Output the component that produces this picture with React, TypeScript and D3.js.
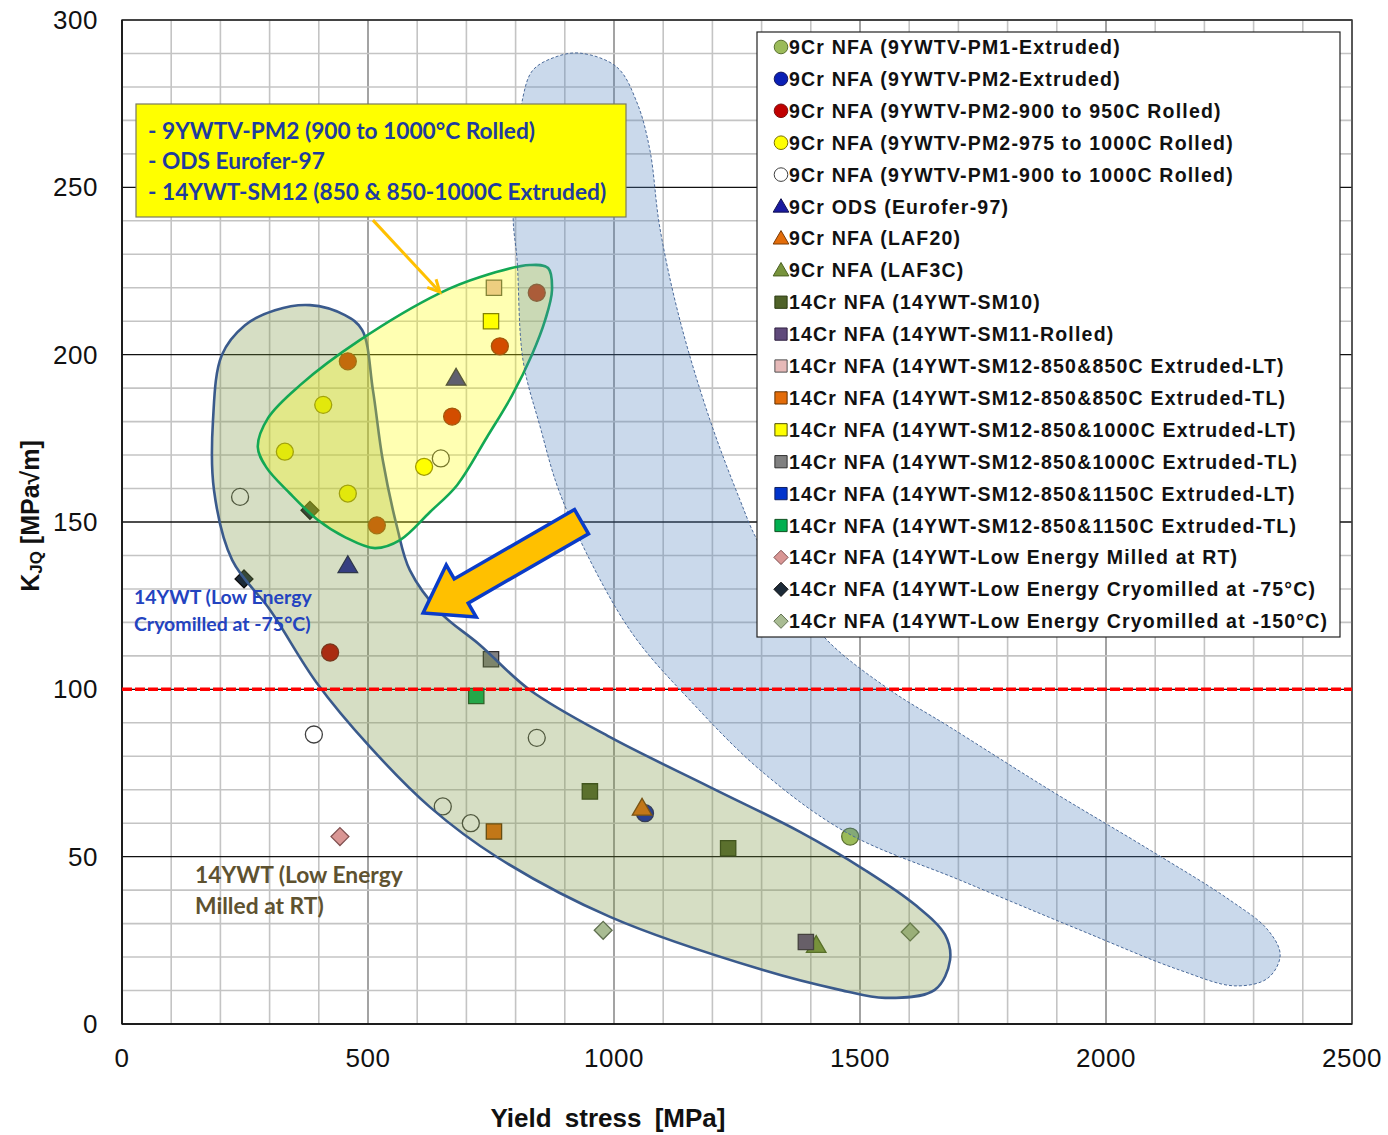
import React from "react";
import * as d3 from "d3";

// ---- axes ----
const xTicks = [0, 500, 1000, 1500, 2000, 2500];
const yTicks = [0, 50, 100, 150, 200, 250, 300];
const xMinorStep = 100;
const yMinorStep = 10;
const referenceLevel = 100;

// ---- series values: [yield stress MPa, K_JQ MPa√m] ----
const pm1Extruded = [[1480, 56]];
const pm2Extruded = [[1063, 63]];
const pm2Rolled900to950 = [[459, 198], [518, 149], [843, 218.5], [423, 111], [671, 181.5], [768, 202.5]];
const pm2Rolled975to1000 = [[331, 171], [409, 185], [459, 158.5], [614, 166.5]];
const pm1Rolled900to1000 = [[240, 157.5], [648, 169], [390, 86.5], [843, 85.5], [652, 65], [709, 60]];
const eurofer97 = [[459, 137], [679, 193]];
const laf20 = [[1057, 64.5]];
const laf3c = [[1411, 23.5]];
const sm10 = [[951, 69.5], [1232, 52.5]];
const sm11Rolled = [[1390, 24.5]];
const sm12_850_850_LT = [[756, 220]];
const sm12_850_850_TL = [[756, 57.5]];
const sm12_850_1000_LT = [[750, 210]];
const sm12_850_1000_TL = [[750, 109]];
const sm12_850_1150_LT: number[][] = [];
const sm12_850_1150_TL = [[720, 98]];
const milledRT = [[443, 56]];
const cryomilled75 = [[248, 133], [382, 153.5]];
const cryomilled150 = [[978, 28], [1602, 27.5]];

const seriesNames = [
  "9Cr NFA (9YWTV-PM1-Extruded)",
  "9Cr NFA (9YWTV-PM2-Extruded)",
  "9Cr NFA (9YWTV-PM2-900 to 950C Rolled)",
  "9Cr NFA (9YWTV-PM2-975 to 1000C Rolled)",
  "9Cr NFA (9YWTV-PM1-900 to 1000C Rolled)",
  "9Cr ODS (Eurofer-97)",
  "9Cr NFA (LAF20)",
  "9Cr NFA (LAF3C)",
  "14Cr NFA (14YWT-SM10)",
  "14Cr NFA (14YWT-SM11-Rolled)",
  "14Cr NFA (14YWT-SM12-850&850C Extruded-LT)",
  "14Cr NFA (14YWT-SM12-850&850C Extruded-TL)",
  "14Cr NFA (14YWT-SM12-850&1000C Extruded-LT)",
  "14Cr NFA (14YWT-SM12-850&1000C Extruded-TL)",
  "14Cr NFA (14YWT-SM12-850&1150C Extruded-LT)",
  "14Cr NFA (14YWT-SM12-850&1150C Extruded-TL)",
  "14Cr NFA (14YWT-Low Energy Milled at RT)",
  "14Cr NFA (14YWT-Low Energy Cryomilled at -75°C)",
  "14Cr NFA (14YWT-Low Energy Cryomilled at -150°C)",
];
const seriesData = [
  pm1Extruded, pm2Extruded, pm2Rolled900to950, pm2Rolled975to1000, pm1Rolled900to1000,
  eurofer97, laf20, laf3c, sm10, sm11Rolled, sm12_850_850_LT, sm12_850_850_TL,
  sm12_850_1000_LT, sm12_850_1000_TL, sm12_850_1150_LT, sm12_850_1150_TL,
  milledRT, cryomilled75, cryomilled150,
];
const seriesShapes = [
  "circle", "circle", "circle", "circle", "circle", "triangle", "triangle", "triangle",
  "square", "square", "square", "square", "square", "square", "square", "square",
  "diamond", "diamond", "diamond",
];
const seriesFills = [
  "#9bbb59", "#0a1fb5", "#c00000", "#ffff00", "#ffffff", "#1a1aa0", "#e36c09", "#77933c",
  "#4f6228", "#604a7b", "#e6b9b8", "#e36c09", "#ffff00", "#808080", "#0033cc", "#00b050",
  "#d99694", "#1c2a38", "#a9bc93",
];
const seriesStrokes = [
  "#5a7030", "#1a1a60", "#7a1010", "#7a7000", "#404040", "#101050", "#7a3a05", "#4a6020",
  "#2a3a10", "#302040", "#505050", "#603000", "#505000", "#303030", "#102060", "#105020",
  "#805050", "#101010", "#607050",
];

// ---- shaded envelopes (outline vertices in data units) ----
const lowStrengthEnvelope = [
  [382, 214.8], [453, 211.8], [488, 207.4], [510, 189.4], [530, 168.5], [559, 148.5],
  [585, 135.6], [646, 123.1], [728, 113.2], [829, 99.8], [992, 85.7], [1195, 70.8],
  [1378, 57.4], [1510, 46.0], [1612, 35.6], [1673, 26.6], [1683, 19.1], [1652, 10.2],
  [1551, 7.8], [1459, 10.2], [1303, 16.1], [992, 32.0], [762, 49.9], [626, 64.8],
  [504, 82.8], [396, 101.9], [301, 123.7], [224, 138.6], [187, 159.5], [185, 180.5],
  [203, 199.9], [250, 208.8], [311, 213.3],
];
const processedEnvelope = [
  [829, 226.8], [866, 225.9], [874, 219.3], [860, 210.3], [833, 199.9], [793, 187.9],
  [742, 175.4], [681, 161.0], [626, 153.0], [565, 144.6], [514, 142.2], [453, 145.5],
  [398, 150.6], [341, 158.6], [293, 166.4], [276, 172.4], [297, 181.1], [362, 190.9],
  [484, 204.4], [646, 218.4], [728, 223.2],
];
const targetEnvelope = [
  [931, 290.1], [1006, 285.9], [1047, 275.2], [1073, 261.1], [1093, 238.1], [1134, 210.3],
  [1195, 180.5], [1256, 156.6], [1291, 144.6], [1358, 129.7], [1433, 114.7], [1561, 99.8],
  [1683, 88.7], [1886, 69.9], [2089, 52.0], [2252, 37.0], [2329, 28.1], [2354, 20.6],
  [2329, 13.7], [2262, 11.4], [2150, 16.1], [1947, 28.1], [1703, 43.0], [1474, 57.1],
  [1297, 75.9], [1154, 96.8], [1047, 114.7], [972, 132.7], [890, 158.6], [850, 178.4],
  [815, 198.4], [803, 228.3], [795, 241.1], [805, 261.1], [815, 277.0], [835, 285.0],
  [880, 288.9],
];

// ---- annotations ----
const boxLines = [
  "- 9YWTV-PM2 (900 to 1000°C Rolled)",
  "- ODS Eurofer-97",
  "- 14YWT-SM12 (850 & 850-1000C Extruded)",
];
const cryoNote = ["14YWT (Low Energy", "Cryomilled at -75°C)"];
const milledNote = ["14YWT (Low Energy", "Milled at RT)"];
const pointerFrom = [510, 240.2];
const pointerTo = [646, 218.7];
const trendFrom = [934, 150.1];
const trendTo = [612, 122.8];

const W = 1388;
const H = 1135;
const x = d3.scaleLinear().domain([0, 2500]).range([122, 1352]);
const y = d3.scaleLinear().domain([0, 300]).range([1024, 20]);

function markerPath(shape: string, cx: number, cy: number, s: number) {
  const p = d3.path();
  if (shape === "circle") {
    p.moveTo(cx + s, cy);
    p.arc(cx, cy, s, 0, Math.PI * 2);
  } else if (shape === "square") {
    const h = s * 0.9;
    p.rect(cx - h, cy - h, 2 * h, 2 * h);
  } else if (shape === "triangle") {
    const h = s * 1.15;
    p.moveTo(cx, cy - h);
    p.lineTo(cx + h * 1.0, cy + h * 0.72);
    p.lineTo(cx - h * 1.0, cy + h * 0.72);
    p.closePath();
  } else {
    const h = s * 1.05;
    p.moveTo(cx, cy - h);
    p.lineTo(cx + h, cy);
    p.lineTo(cx, cy + h);
    p.lineTo(cx - h, cy);
    p.closePath();
  }
  return p.toString();
}

const envelopeLine = d3
  .line<number[]>()
  .x((d) => x(d[0]))
  .y((d) => y(d[1]))
  .curve(d3.curveCatmullRomClosed.alpha(0.5));

function blockArrow(from: number[], to: number[]) {
  const x0 = x(from[0]), y0 = y(from[1]);
  const x1 = x(to[0]), y1 = y(to[1]);
  const dx = x1 - x0, dy = y1 - y0;
  const L = Math.hypot(dx, dy);
  const ux = dx / L, uy = dy / L;
  const nx = -uy, ny = ux;
  const shaft = 14, head = 30, headLen = 44;
  const bx = x1 - ux * headLen, by = y1 - uy * headLen;
  const pts = [
    [x0 + nx * shaft, y0 + ny * shaft],
    [bx + nx * shaft, by + ny * shaft],
    [bx + nx * head, by + ny * head],
    [x1, y1],
    [bx - nx * head, by - ny * head],
    [bx - nx * shaft, by - ny * shaft],
    [x0 - nx * shaft, y0 - ny * shaft],
  ];
  return "M" + pts.map((p) => p.join(",")).join("L") + "Z";
}

export default function App() {
  const xMinor = d3.range(0, 2500 + 1, xMinorStep);
  const yMinor = d3.range(0, 300 + 1, yMinorStep);
  const legendX = 757, legendY = 32, legendW = 583, legendH = 605;
  const rowH = 31.9;
  const ptrHead = (() => {
    const x0 = x(pointerFrom[0]), y0 = y(pointerFrom[1]);
    const x1 = x(pointerTo[0]), y1 = y(pointerTo[1]);
    const L = Math.hypot(x1 - x0, y1 - y0);
    const ux = (x1 - x0) / L, uy = (y1 - y0) / L;
    const nx = -uy, ny = ux;
    const hl = 12, hw = 6;
    return `M${x1 - ux * hl + nx * hw},${y1 - uy * hl + ny * hw}L${x1},${y1}L${x1 - ux * hl - nx * hw},${y1 - uy * hl - ny * hw}`;
  })();

  return (
    <svg
      width={W}
      height={H}
      viewBox={`0 0 ${W} ${H}`}
      style={{ position: "absolute", left: 0, top: 0, background: "#fff" }}
      fontFamily="'Liberation Sans', Arial, sans-serif"
    >
      <rect x={0} y={0} width={W} height={H} fill="#fff" />
      {/* grid */}
      <g>
        {xMinor.map((v) => (
          <line key={"gx" + v} x1={x(v)} x2={x(v)} y1={y(0)} y2={y(300)}
            stroke={v % 500 === 0 ? "#8c8c8c" : "#c4c4c4"} strokeWidth={1.6} />
        ))}
        {yMinor.map((v) => (
          <line key={"gy" + v} x1={x(0)} x2={x(2500)} y1={y(v)} y2={y(v)}
            stroke={v % 50 === 0 ? "#111" : "#c4c4c4"} strokeWidth={v % 50 === 0 ? 1.4 : 1.6} />
        ))}
        <rect x={x(0)} y={y(300)} width={x(2500) - x(0)} height={y(0) - y(300)}
          fill="none" stroke="#404040" strokeWidth={1.5} />
        <line x1={x(0)} x2={x(0)} y1={y(0)} y2={y(300)} stroke="#111" strokeWidth={1.6} />
        <line x1={x(0)} x2={x(2500)} y1={y(0)} y2={y(0)} stroke="#111" strokeWidth={1.6} />
      </g>

      {/* tick labels */}
      <g fontSize={26} fill="#111" letterSpacing={0.5}>
        {yTicks.map((v) => (
          <text key={"yt" + v} x={98} y={y(v)} textAnchor="end" dominantBaseline="central">{v}</text>
        ))}
        {xTicks.map((v) => (
          <text key={"xt" + v} x={x(v)} y={1058} textAnchor="middle" dominantBaseline="central">{v}</text>
        ))}
      </g>
      <text x={608} y={1118} textAnchor="middle" dominantBaseline="central" fontSize={26}
        fontWeight="bold" wordSpacing={6} fill="#111">Yield stress [MPa]</text>
      <text transform={`translate(30,516) rotate(-90)`} textAnchor="middle" dominantBaseline="central"
        fontSize={25} fontWeight="bold" fill="#111">
        K<tspan fontSize={17} dy={6}>JQ</tspan><tspan dy={-6}> [MPa√m]</tspan>
      </text>

      {/* data points */}
      <g>
        {seriesData.map((pts, i) =>
          pts.map((d, j) => (
            <path key={`p${i}-${j}`} d={markerPath(seriesShapes[i], x(d[0]), y(d[1]), 8.5)}
              fill={seriesFills[i]} stroke={seriesStrokes[i]} strokeWidth={1.3} />
          ))
        )}
      </g>

      {/* envelopes */}
      <path d={envelopeLine(lowStrengthEnvelope) || ""} fill="#76923c" fillOpacity={0.3}
        stroke="#3a5a8c" strokeWidth={2.6} />
      <path d={envelopeLine(processedEnvelope) || ""} fill="#ffff00" fillOpacity={0.3}
        stroke="#13a854" strokeWidth={2.6} />
      <path d={envelopeLine(targetEnvelope) || ""} fill="#4f81bd" fillOpacity={0.3}
        stroke="#4a6a9a" strokeWidth={1} strokeDasharray="3,2" />

      {/* reference level */}
      <line x1={x(0)} x2={x(2500)} y1={y(referenceLevel)} y2={y(referenceLevel)}
        stroke="#ff0000" strokeWidth={3.5} strokeDasharray="10,3" />

      {/* pointer from the box */}
      <line x1={x(pointerFrom[0])} y1={y(pointerFrom[1])} x2={x(pointerTo[0])} y2={y(pointerTo[1])}
        stroke="#ffc000" strokeWidth={3} />
      <path d={ptrHead} fill="none" stroke="#ffc000" strokeWidth={3} />

      {/* trend arrow */}
      <path d={blockArrow(trendFrom, trendTo)} fill="#ffc000" stroke="#0a3cc8" strokeWidth={3.5}
        strokeLinejoin="miter" />

      {/* callout box */}
      <rect x={136} y={104} width={490} height={113} fill="#ffff00" stroke="#7a7a60" strokeWidth={1.2} />
      <g fontFamily="Lato, 'Open Sans', sans-serif" fontWeight="bold" fontSize={22.7} fill="#1f3c9e">
        {boxLines.map((t, i) => (
          <text key={"bl" + i} x={148} y={130 + i * 30.5} dominantBaseline="central">{t}</text>
        ))}
      </g>

      <g fontFamily="Lato, 'Open Sans', sans-serif" fontWeight="bold" fontSize={19.5} fill="#2343c0">
        {cryoNote.map((t, i) => (
          <text key={"cn" + i} x={134} y={596 + i * 27} dominantBaseline="central">{t}</text>
        ))}
      </g>
      <g fontFamily="Lato, 'Open Sans', sans-serif" fontWeight="bold" fontSize={22.8} fill="#5e5230">
        {milledNote.map((t, i) => (
          <text key={"mn" + i} x={195} y={874 + i * 31} dominantBaseline="central">{t}</text>
        ))}
      </g>

      {/* legend */}
      <rect x={legendX} y={legendY} width={legendW} height={legendH} fill="#fff" stroke="#222" strokeWidth={1.2} />
      <g fontSize={19.5} fontWeight="bold" fill="#111" letterSpacing={1.2}>
        {seriesNames.map((name, i) => {
          const cy = legendY + 15 + i * rowH;
          return (
            <g key={"lg" + i}>
              <path d={markerPath(seriesShapes[i], 781, cy, 6.8)} fill={seriesFills[i]}
                stroke={seriesStrokes[i]} strokeWidth={1} />
              <text x={789} y={cy} dominantBaseline="central">{name}</text>
            </g>
          );
        })}
      </g>
    </svg>
  );
}
